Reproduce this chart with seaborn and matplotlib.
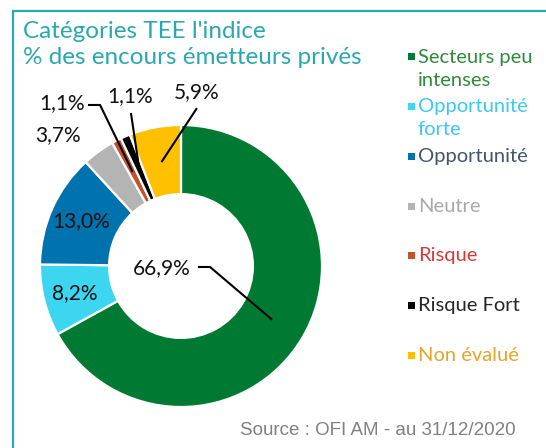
"""
Catégories TEE — donut chart (recréation)
"""

import numpy as np
import matplotlib
matplotlib.use("Agg")
import matplotlib.pyplot as plt
from matplotlib.lines import Line2D
from matplotlib.patches import Rectangle
import seaborn as sns

sns.set_theme(style="white")
plt.rcParams["font.family"] = ["Lato", "DejaVu Sans"]

# données
categories = ["Secteurs peu\nintenses", "Opportunité\nforte", "Opportunité",
              "Neutre", "Risque", "Risque Fort", "Non évalué"]
values = [66.9, 8.2, 13.0, 3.7, 1.1, 1.1, 5.9]
value_labels = ["66,9%", "8,2%", "13,0%", "3,7%", "1,1%", "1,1%", "5,9%"]

slice_colors = ["#007a33", "#3dd6f0", "#0073ae", "#b4b4b4",
                "#c2522e", "#000000", "#ffc000"]
text_colors = ["#2e8b3c", "#3cc8f0", "#44546a", "#a9a9a9",
               "#d8393b", "#262626", "#e3a62a"]

TEAL = "#2aa8b2"
W, H = 546, 448

fig = plt.figure(figsize=(W / 100, H / 100), dpi=100)

# axes carré : centre (181, 266) px, rayon 141 px
cx, cy, r = 181, 266, 141
ax = fig.add_axes([(cx - r) / W, (H - cy - r) / H, 2 * r / W, 2 * r / H])
wedges, _ = ax.pie(values, startangle=90, counterclock=False, radius=1.0,
                   colors=slice_colors,
                   wedgeprops=dict(width=0.49, edgecolor="white", linewidth=1.6))
ax.set_xlim(-1, 1)
ax.set_ylim(-1, 1)
ax.set_aspect("equal")
ax.axis("off")


def mid_point(w, rr):
    a = np.deg2rad((w.theta1 + w.theta2) / 2)
    return rr * np.cos(a), rr * np.sin(a)


# placement des étiquettes : (position texte, points de la ligne de rappel)
label_style = {
    0: dict(xy=(-0.135, -0.014), line=[(0.12, -0.007), (0.206, -0.007)]),
    1: dict(inside=True),
    2: dict(inside=True),
    3: dict(xy=(-0.872, 0.929), line=None),
    4: dict(xy=(-0.84, 1.156), line=[(-0.66, 1.142), (-0.574, 1.142)]),
    5: dict(xy=(-0.362, 1.205), line=[(-0.355, 1.085)]),
    6: dict(xy=(0.113, 1.23), line=[(0.113, 1.12)]),
}

LBL_FS = 15
for i, w in enumerate(wedges):
    st = label_style[i]
    if st.get("inside"):
        x, y = mid_point(w, 0.775)
        ax.text(x, y, value_labels[i], ha="center", va="center",
                fontsize=LBL_FS, color="#111111")
        continue
    ax.text(st["xy"][0], st["xy"][1], value_labels[i], ha="center", va="center",
            fontsize=LBL_FS, color="#111111", clip_on=False)
    if st["line"]:
        pts = st["line"] + [mid_point(w, 0.75)]
        xs, ys = zip(*pts)
        ax.plot(xs, ys, color="black", linewidth=1.5, clip_on=False,
                solid_capstyle="butt")

# titre
fig.text(23 / W, 1 - 32 / H, "Catégories TEE l'indice",
         ha="left", va="center", fontsize=17.5, color=TEAL)
fig.text(23 / W, 1 - 58 / H, "% des encours émetteurs privés",
         ha="left", va="center", fontsize=17.5, color=TEAL)

# légende manuelle
leg_y0, leg_dy = 57, 49.7
for i, (lab, sc, tc) in enumerate(zip(categories, slice_colors, text_colors)):
    y = leg_y0 + i * leg_dy
    fig.patches.append(Rectangle((407.5 / W, 1 - (y + 3.5) / H), 7 / W, 7 / H,
                                 transform=fig.transFigure, facecolor=sc,
                                 edgecolor="none"))
    lines = lab.split("\n")
    for k, part in enumerate(lines):
        fig.text(418 / W, 1 - (y + k * 23) / H, part, ha="left", va="center",
                 fontsize=14.5, color=tc)

# source
fig.text(378 / W, 1 - 430 / H, "Source : OFI AM - au 31/12/2020",
         ha="center", va="center", fontsize=13.5, color="#808080",
         family="Liberation Sans")

# cadre
fig.lines.append(Line2D([13 / W, 13 / W], [0, 1 - 11 / H], transform=fig.transFigure,
                        color=TEAL, linewidth=1.6))
fig.lines.append(Line2D([13 / W, 1], [1 - 11 / H, 1 - 11 / H], transform=fig.transFigure,
                        color=TEAL, linewidth=1.6))

fig.savefig("out.png", dpi=100)
